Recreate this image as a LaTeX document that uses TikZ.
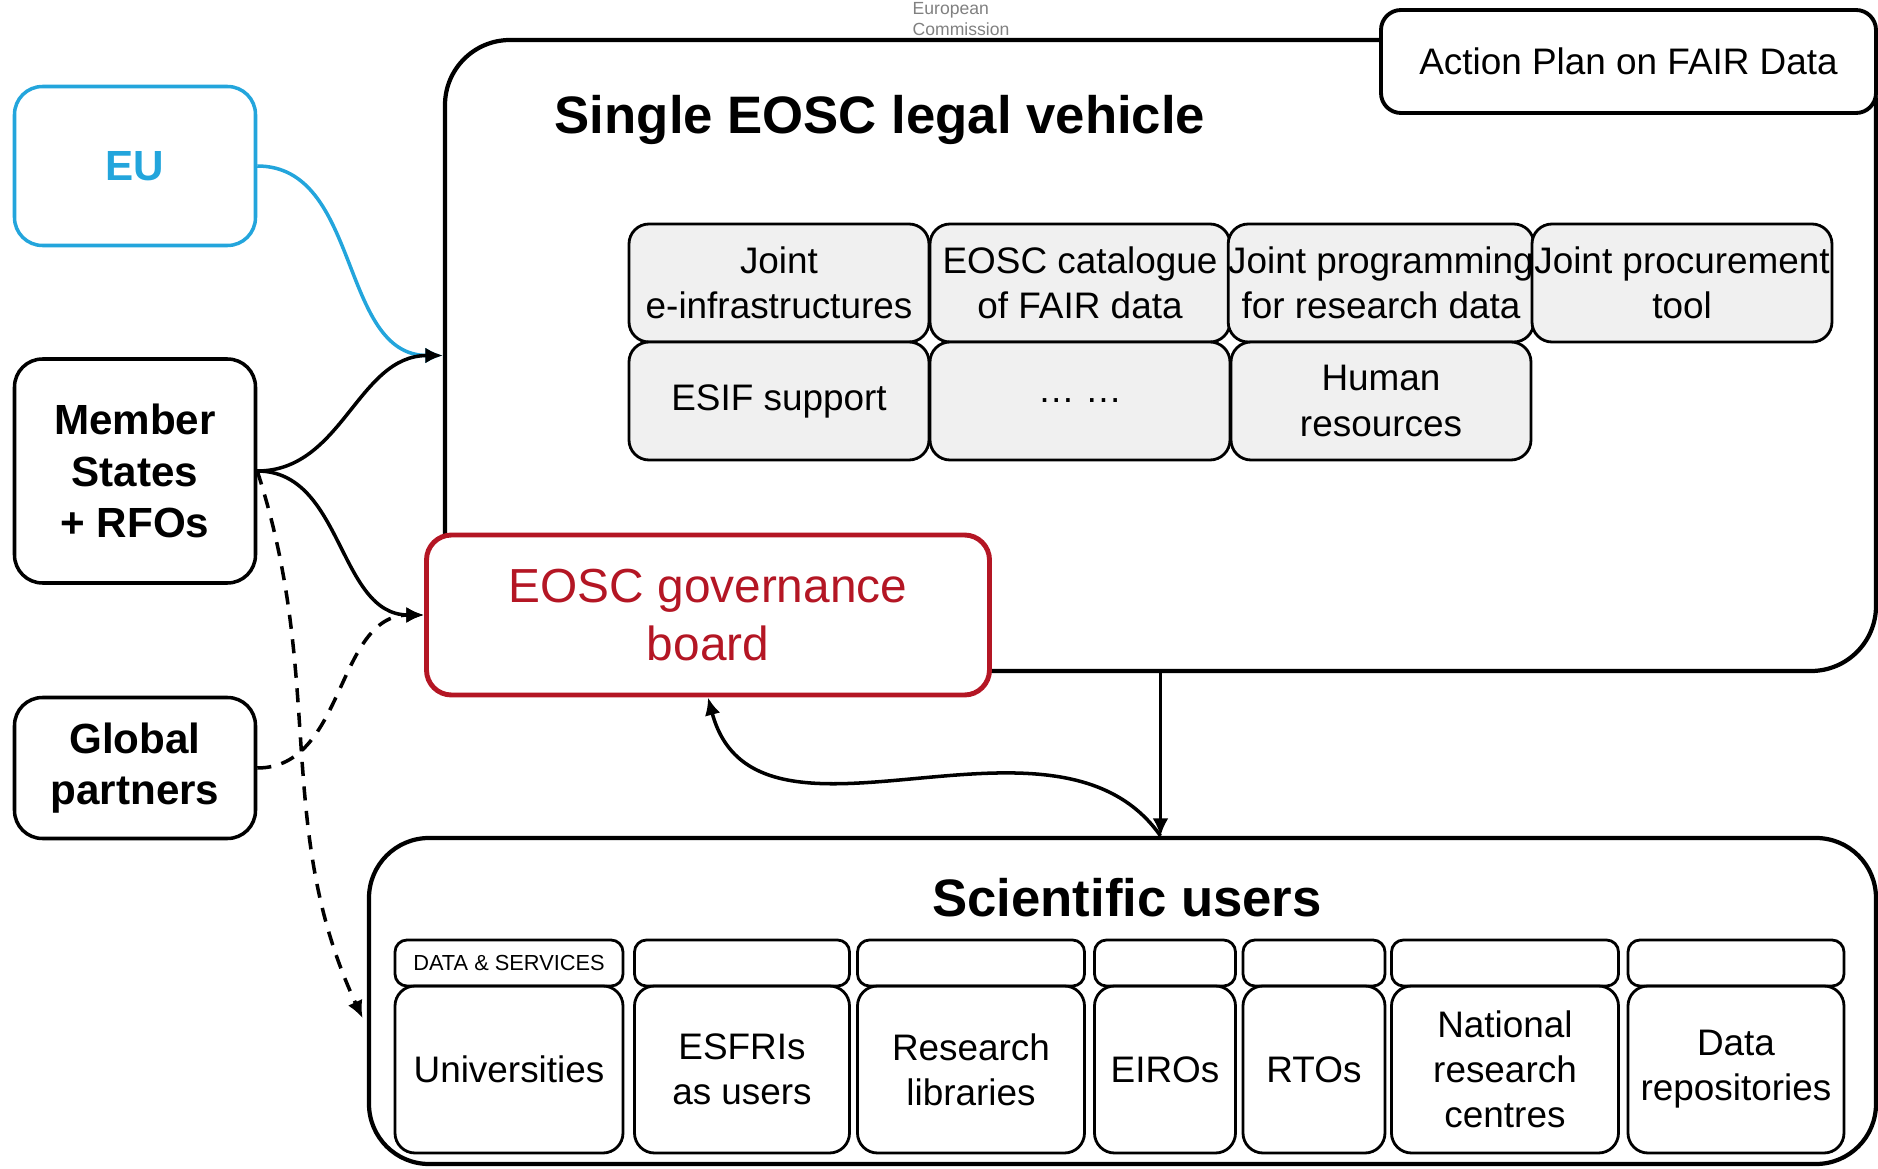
\documentclass[tikz,border=0pt]{standalone}
\usepackage{fontspec}
\setmainfont{Liberation Sans}
\usepackage{tikz}
\usetikzlibrary{shapes,arrows,arrows.meta,positioning}
\definecolor{eublue}{RGB}{35,165,220}
\definecolor{boardred}{RGB}{180,22,36}
\definecolor{taskgrey}{RGB}{240,240,240}
\tikzset{
  actor/.style     = {draw, line width=1pt, rectangle, rounded corners=0.28cm, minimum width=2.41cm, align=center, font=\fontsize{12}{14.6}\selectfont\bfseries},
  container/.style = {draw, line width=1.2pt, rectangle, rounded corners=0.65cm, fill=white},
  heading/.style   = {font=\fontsize{15}{18}\selectfont\bfseries},
  plan/.style      = {draw, line width=1.1pt, rectangle, rounded corners=0.2cm, fill=white, font=\fontsize{10.5}{12.9}\selectfont},
  task/.style      = {draw, line width=0.8pt, rectangle, rounded corners=0.2cm, fill=taskgrey, minimum width=3cm, minimum height=1.18cm, inner xsep=0pt, align=center, font=\fontsize{10.5}{12.9}\selectfont},
  board/.style     = {draw=boardred, text=boardred, line width=1.4pt, rectangle, rounded corners=0.25cm, fill=white, minimum width=5.63cm, minimum height=1.6cm, align=center, font=\fontsize{13.6}{16.3}\selectfont},
  userhead/.style  = {draw, line width=0.8pt, rectangle, rounded corners=0.12cm, minimum height=0.46cm, inner sep=0pt, font=\fontsize{6.2}{7}\selectfont},
  member/.style    = {draw, line width=0.8pt, rectangle, rounded corners=0.2cm, minimum height=1.67cm, inner xsep=0pt, align=center, font=\fontsize{10.5}{12.8}\selectfont},
  logo/.style      = {text=gray, align=left, inner sep=0pt, anchor=west, font=\fontsize{5}{5.8}\selectfont},
  link/.style      = {line width=1pt},
  maybe/.style     = {line width=1pt, dash pattern=on 4pt off 3pt}
}

\begin{document}
\begin{tikzpicture}[auto, node distance=3.01cm, >={Latex[length=5pt,width=4.5pt]}]

\clip (0,0) rectangle (18.78,11.68);

% Logo
\draw node [logo] at (9.12,11.49) (logo) {European\\Commission};

% Actors
\draw node [actor, draw=eublue, text=eublue, minimum height=1.59cm, name=eu] at (1.35,10.02) {EU};
\draw node [actor, minimum height=2.24cm, below of=eu, node distance=3.05cm] (ms) {Member\\States\\+ RFOs};
\draw node [actor, minimum height=1.41cm, below of=ms, node distance=2.97cm] (gp) {Global\\partners};

% Single EOSC legal vehicle
\draw node [container, minimum width=14.31cm, minimum height=6.31cm] at (11.605,8.125) (legal) {};
\draw node [plan, minimum width=4.95cm, minimum height=1.03cm] at (16.285,11.065) (plan) {Action Plan on FAIR Data};
\draw node [heading] at (8.80,10.48) (ltitle) {Single EOSC legal vehicle};

% Tools
\draw node [task] at (7.79,8.85) (t11) {Joint\\e-infrastructures};
\draw node [task, right of=t11] (t12) {EOSC catalogue\\of FAIR data};
\draw node [task, right of=t12] (t13) {Joint programming\\for research data};
\draw node [task, right of=t13] (t14) {Joint procurement\\tool};
\draw node [task, below of=t11, node distance=1.18cm] (t21) {ESIF support};
\draw node [task, right of=t21] (t22) {… …};
\draw node [task, right of=t22] (t23) {Human\\resources};

% Governance
\draw node [board] at (7.08,5.53) (board) {EOSC governance\\board};

% Scientific users
\draw node [container, rounded corners=0.6cm, minimum width=15.07cm, minimum height=3.26cm] at (11.225,1.67) (users) {};
\draw node [heading] at (11.27,2.70) (utitle) {Scientific users};

\draw node [userhead, minimum width=2.28cm] at (5.09,2.05) (h1) {DATA \& SERVICES};
\draw node [userhead, minimum width=2.15cm] at (7.42,2.05) (h2) {};
\draw node [userhead, minimum width=2.27cm] at (9.71,2.05) (h3) {};
\draw node [userhead, minimum width=1.41cm] at (11.65,2.05) (h4) {};
\draw node [userhead, minimum width=1.42cm] at (13.14,2.05) (h5) {};
\draw node [userhead, minimum width=2.27cm] at (15.05,2.05) (h6) {};
\draw node [userhead, minimum width=2.16cm] at (17.36,2.05) (h7) {};

\draw node [member, minimum width=2.28cm, below of=h1, node distance=1.065cm] (u1) {Universities};
\draw node [member, minimum width=2.15cm, below of=h2, node distance=1.065cm] (u2) {ESFRIs\\as users};
\draw node [member, minimum width=2.27cm, below of=h3, node distance=1.065cm] (u3) {Research\\libraries};
\draw node [member, minimum width=1.41cm, below of=h4, node distance=1.065cm] (u4) {EIROs};
\draw node [member, minimum width=1.42cm, below of=h5, node distance=1.065cm] (u5) {RTOs};
\draw node [member, minimum width=2.27cm, below of=h6, node distance=1.065cm] (u6) {National\\research\\centres};
\draw node [member, minimum width=2.16cm, below of=h7, node distance=1.065cm] (u7) {Data\\repositories};

% Connections
\draw[->, link, eublue] (eu.east) to[out=0, in=180] (legal.west);
\draw[->, link] (ms.east) to[out=0, in=180] (legal.west);
\draw[->, link] (ms.east) to[out=0, in=180] (board.west);
\draw[->, maybe] (gp.east) to[out=0, in=180] (board.west);
\draw[->, maybe, shorten >=1mm] (ms.east) to[out=-72, in=115] (users.182.5);
\draw[->, line width=0.7pt] (legal.south) -- (legal.south |- users.north);
\draw[->, link] (legal.south |- users.north) to[out=125, in=-75] (board.south);

\end{tikzpicture}
\end{document}
